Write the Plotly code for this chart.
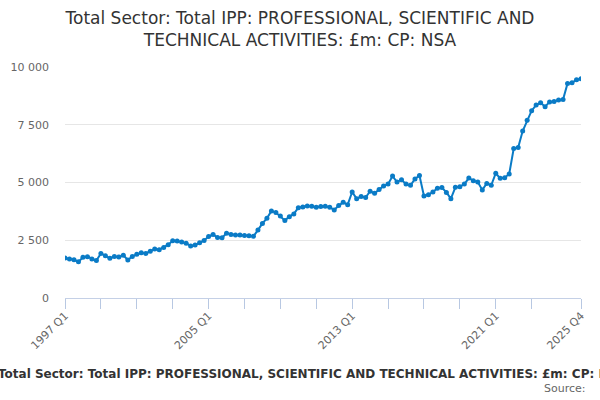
import plotly.graph_objects as go

title_text = "Total Sector: Total IPP: PROFESSIONAL, SCIENTIFIC AND<br>TECHNICAL ACTIVITIES: £m: CP: NSA"
axis_title = "Total Sector: Total IPP: PROFESSIONAL, SCIENTIFIC AND TECHNICAL ACTIVITIES: £m: CP: NSA"

years = list(range(1997, 2026))
quarters = [f"{y} Q{q}" for y in years for q in range(1, 5)]

values = [
    1730, 1690, 1660, 1570, 1760, 1790, 1690, 1620, 1930, 1830,
    1720, 1800, 1770, 1850, 1645, 1800, 1890, 1960, 1930, 2020,
    2120, 2090, 2190, 2310, 2480, 2470, 2420, 2370, 2250, 2290,
    2390, 2490, 2660, 2750, 2620, 2610, 2800, 2750, 2730, 2730,
    2710, 2700, 2670, 2940, 3230, 3450, 3770, 3700, 3550, 3360,
    3520, 3640, 3910, 3940, 3980, 3970, 3930, 3960, 3970, 3930,
    3810, 4000, 4140, 4040, 4590, 4300, 4390, 4350, 4620, 4530,
    4700, 4850, 4930, 5280, 5020, 5120, 4930, 4880, 5150, 5300,
    4420, 4470, 4590, 4750, 4780, 4570, 4300, 4790, 4820, 4930,
    5190, 5080, 5020, 4680, 4960, 4880, 5400, 5180, 5210, 5370,
    6470, 6520, 7230, 7690, 8110, 8350, 8450, 8280, 8490, 8510,
    8570, 8590, 9290, 9320, 9450, 9490,
]

x_labels = ["1997 Q1", "2005 Q1", "2013 Q1", "2021 Q1", "2025 Q4"]
x_minor = [f"{y} Q1" for y in range(1997, 2025, 2)]
y_ticks = [0, 2500, 5000, 7500, 10000]
y_ticktext = ["0", "2 500", "5 000", "7 500", "10 000"]

idx = list(range(len(quarters)))
pos = {q: i for i, q in enumerate(quarters)}

fig = go.Figure()
fig.add_trace(go.Scatter(
    x=idx, y=values, mode="lines+markers",
    line=dict(color="#0a7bc6", width=2),
    marker=dict(color="#0a7bc6", size=5),
    hovertext=quarters, showlegend=False,
))

fig.update_layout(
    width=600, height=400,
    margin=dict(l=65, r=19, t=67, b=102),
    paper_bgcolor="white", plot_bgcolor="white",
    font=dict(family="DejaVu Sans", color="#666666", size=11),
    title=dict(text=title_text, x=0.5, xanchor="center", y=0.94, yanchor="top",
               font=dict(family="DejaVu Sans", size=17, color="#333333")),
)
fig.update_xaxes(
    range=[0, len(quarters) - 1], automargin=False,
    tickmode="array",
    tickvals=[pos[q] for q in x_labels], ticktext=x_labels,
    tickangle=-45, ticks="outside", ticklen=10, tickcolor="#b8c8e2", tickwidth=1,
    minor=dict(tickmode="array", tickvals=[pos[q] for q in x_minor],
               ticks="outside", ticklen=10, tickcolor="#b8c8e2", tickwidth=1,
               showgrid=False),
    showgrid=False, zeroline=False, ticklabelstandoff=-4,
    showline=True, linecolor="#c4d0e6", linewidth=1,
    tickfont=dict(size=11, color="#666666"),
)
fig.update_yaxes(
    range=[0, 10000], tickvals=y_ticks, ticktext=y_ticktext, automargin=False,
    showgrid=True, gridcolor="#e6e6e6", zeroline=False, showline=False,
    ticks="", tickfont=dict(size=11, color="#666666"), ticklabelstandoff=15,
)

fig.add_annotation(text=f"<b>{axis_title}</b>", xref="paper", yref="paper",
                   x=0.48, y=-0.29, xanchor="center", yanchor="top",
                   showarrow=False, font=dict(size=12, color="#333333"))
fig.add_annotation(text="Source:", xref="paper", yref="paper",
                   x=1.0136, y=-0.357, xanchor="right", yanchor="top",
                   showarrow=False, font=dict(size=11, color="#666666"))

fig.write_html("out.html", config={"displayModeBar": False},
               post_script="document.body.style.margin='0';")
